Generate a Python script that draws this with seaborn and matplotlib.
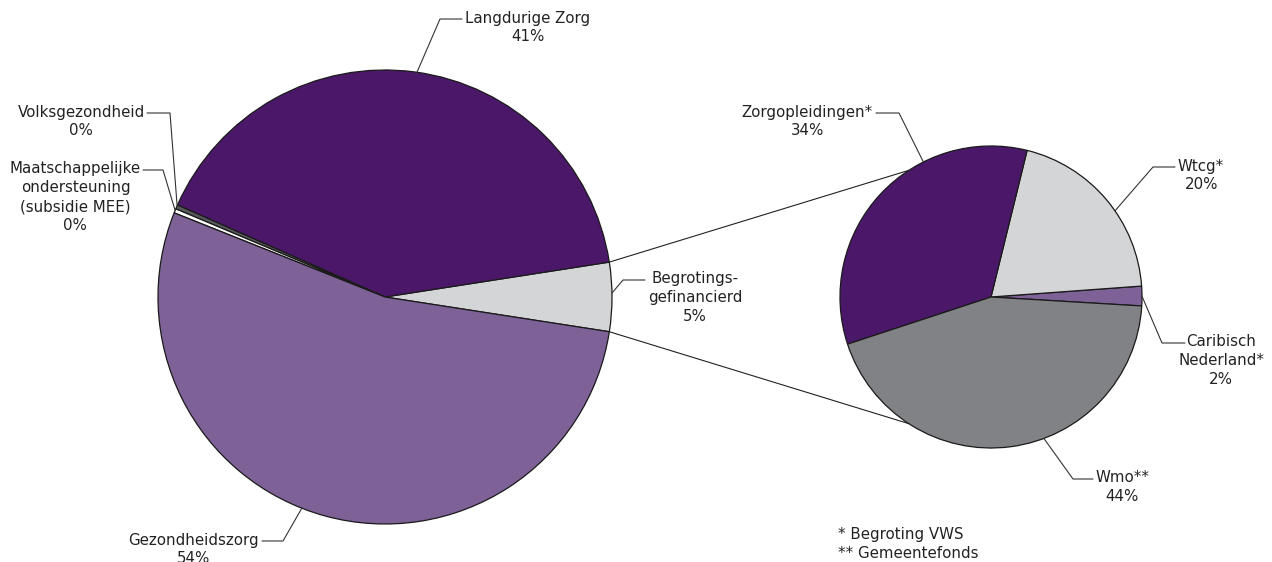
import numpy as np
import matplotlib.pyplot as plt
import seaborn as sns

# main pie: share of the budget
main_labels = ['Begrotings-\ngefinancierd', 'Langdurige Zorg', 'Volksgezondheid',
               'Maatschappelijke\nondersteuning\n(subsidie MEE)', 'Gezondheidszorg']
main_values = [4.9, 40.9, 0.3, 0.3, 53.6]
main_colors = ['#d4d5d7', '#4a1769', '#58595b', '#ffffff', '#7d6197']

# detail pie: the "Begrotingsgefinancierd" part
sub_labels = ['Caribisch\nNederland*', 'Wtcg*', 'Zorgopleidingen*', 'Wmo**']
sub_values = [2.1, 20.0, 33.9, 44.0]
sub_colors = ['#7d6197', '#d4d5d7', '#4a1769', '#818285']

footnote = '* Begroting VWS\n** Gemeentefonds'

W, H = 1272, 562

def flip(y):
    return H - y

sns.set_theme(style='white')
plt.rcParams['font.family'] = ['DejaVu Sans']

fig = plt.figure(figsize=(W / 100, H / 100), dpi=100)
ax = fig.add_axes([0, 0, 1, 1])

c1, r1 = (385, flip(297)), 227
c2, r2 = (991, flip(297)), 151

wedges1, _ = ax.pie(main_values, colors=main_colors, startangle=-8.8, center=c1, radius=r1,
                    wedgeprops=dict(edgecolor='#1a1a1a', linewidth=0.9))
wedges2, _ = ax.pie(sub_values, colors=sub_colors, startangle=-3.4, center=c2, radius=r2,
                    wedgeprops=dict(edgecolor='#1a1a1a', linewidth=0.9))

def edge_point(center, radius, ang):
    a = np.deg2rad(ang)
    return center[0] + radius * np.cos(a), center[1] + radius * np.sin(a)

# lines linking the Begrotingsgefinancierd wedge to the detail pie
w = wedges1[0]
for a1, a2 in [(w.theta2, 123), (w.theta1, 237)]:
    p1 = edge_point(c1, r1, a1)
    p2 = edge_point(c2, r2, a2)
    ax.plot([p1[0], p2[0]], [p1[1], p2[1]], color='#222222', lw=0.8, zorder=0)

# label layout: (angle on rim, elbow, end of leader, text anchor, ha)
def pct(v):
    return '%d%%' % round(v)

main_layout = [
    (1.0, (623, 280), (645, 280), (648, 280), 'left'),
    (81.9, (440, 19), (462, 19), (465, 19), 'left'),
    (156.3, (170, 113), (147, 113), (145, 113), 'right'),
    (157.6, (163, 170), (143, 170), (141, 170), 'right'),
    (248.5, (283, 541), (262, 541), (259, 541), 'right'),
]
sub_layout = [
    (0.3, (1162, 343), (1185, 343), (1178, 343), 'left'),
    (34.8, (1153, 167), (1175, 167), (1178, 167), 'left'),
    (116.6, (899, 113), (876, 113), (873, 113), 'right'),
    (290.5, (1073, 479), (1093, 479), (1095, 479), 'left'),
]

def draw_labels(center, radius, labels, values, layout):
    for lab, val, (ang, elbow, end, txt, ha) in zip(labels, values, layout):
        p = edge_point(center, radius, ang)
        ax.plot([p[0], elbow[0], end[0]], [p[1], flip(elbow[1]), flip(end[1])],
                color='#333333', lw=0.8, zorder=3)
        ax.text(txt[0], flip(txt[1]) + 8.5, lab + '\n' + pct(val), ha=ha, va='top',
                multialignment='center', fontsize=10.8, color='#222222', linespacing=1.32)

draw_labels(c1, r1, main_labels, main_values, main_layout)
draw_labels(c2, r2, sub_labels, sub_values, sub_layout)

ax.text(838, flip(536) + 8.5, footnote, ha='left', va='top', fontsize=10.8,
        color='#222222', linespacing=1.32)

ax.set_xlim(0, W)
ax.set_ylim(0, H)
ax.set_aspect('auto')
ax.axis('off')

plt.savefig('out.png', dpi=100)
